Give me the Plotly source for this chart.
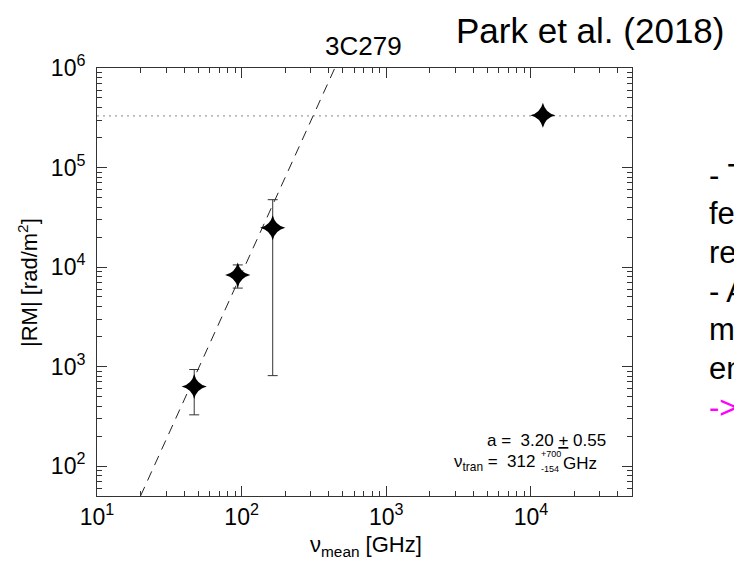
import plotly.graph_objects as go

# ---- data ----
nu_mean = [47, 94, 164, 12100]            # GHz
rm_abs = [630, 8300, 24800, 335000]       # rad/m^2
rm_err_plus = [303, 2200, 22700, 0]
rm_err_minus = [303, 2160, 23990, 0]

fit_nu = [20, 441]          # dashed power-law fit, endpoints
fit_rm = [50, 1.0e6]
rm_sat = 330000             # dotted saturation level
x_span = [10, 50000]

x_major = [10, 100, 1000, 10000]
x_major_text = ["10<sup>1</sup>", "10<sup>2</sup>", "10<sup>3</sup>", "10<sup>4</sup>"]
y_major = [100, 1000, 10000, 100000, 1000000]
y_major_text = ["10<sup>2</sup>", "10<sup>3</sup>", "10<sup>4</sup>", "10<sup>5</sup>", "10<sup>6</sup>"]

side_lines = ["- T", "fe", "re", "- A", "m", "en", "->"]
side_colors = ["black"] * 6 + ["#ff00ff"]

# ---- geometry helpers (pixel -> paper) ----
L, R, T, B = 97, 632, 68, 496
W, H = 734, 561
def px(x):
    return (x - L) / (R - L)
def py(y):
    return (B - y) / (B - T)

x_minor = [m * 10 ** k for k in range(1, 5) for m in range(2, 10) if m * 10 ** k <= 50000]
y_minor = [m * 10 ** k for k in range(1, 6) for m in range(2, 10) if m * 10 ** k >= 50]

FONT = "Liberation Sans, Arial, Helvetica, sans-serif"
AX = "#333333"

fig = go.Figure()

fig.add_trace(go.Scatter(
    x=x_span, y=[rm_sat, rm_sat], mode="lines",
    line=dict(color="#888888", width=1, dash="2px,4px"),
    hoverinfo="skip", showlegend=False))

fig.add_trace(go.Scatter(
    x=fit_nu, y=fit_rm, mode="lines",
    line=dict(color="#222222", width=1, dash="10px,7px"),
    hoverinfo="skip", showlegend=False))

fig.add_trace(go.Scatter(
    x=nu_mean, y=rm_abs, mode="markers",
    marker=dict(symbol="star-diamond", size=18, color="black", line=dict(width=0)),
    error_y=dict(type="data", array=rm_err_plus, arrayminus=rm_err_minus,
                 color="#333333", thickness=1, width=5),
    showlegend=False))

axis_common = dict(
    type="log", showline=True, linecolor=AX, linewidth=1, mirror="allticks",
    ticks="inside", ticklen=10, tickwidth=1, tickcolor=AX, showgrid=False, zeroline=False,
    tickfont=dict(family=FONT, size=23, color="black"),
)

fig.update_xaxes(
    range=[1, 4.69897], tickmode="array", tickvals=x_major, ticktext=x_major_text,
    minor=dict(tickmode="array", tickvals=x_minor, ticks="inside", ticklen=5, tickcolor=AX, showgrid=False),
    **axis_common)
fig.update_yaxes(
    range=[1.69897, 6], tickmode="array", tickvals=y_major, ticktext=y_major_text,
    ticklabelstandoff=6,
    minor=dict(tickmode="array", tickvals=y_minor, ticks="inside", ticklen=5, tickcolor=AX, showgrid=False),
    **axis_common)

ann = []
def text(x, y, s, size, color="black", xanchor="center", yanchor="middle", angle=0):
    ann.append(dict(x=px(x), y=py(y), xref="paper", yref="paper", text=s, showarrow=False,
                    xanchor=xanchor, yanchor=yanchor, textangle=angle,
                    font=dict(family=FONT, size=size, color=color)))

text(363, 46, "3C279", 26)
text(590, 30, "Park et al. (2018)", 35)
text(366, 546, "ν<sub>mean</sub> [GHz]", 22)
text(28, 283, "|RM| [rad/m<sup>2</sup>]", 22, angle=-90)

text(608, 440, "a =  3.20 <u>+</u> 0.55", 17, xanchor="right")
text(537, 463, "ν<sub>tran</sub> =  312", 17, xanchor="right")
text(539, 454, "+700", 9, xanchor="left")
text(539, 469, "-154", 9, xanchor="left")
text(561, 463, "GHz", 17, xanchor="left")

for i, (s, c) in enumerate(zip(side_lines, side_colors)):
    text(707, 175 + i * 38.7, s, 31, color=c, xanchor="left")

fig.update_layout(
    annotations=ann,
    width=W, height=H,
    margin=dict(l=L, r=W - R, t=T, b=H - B),
    paper_bgcolor="white", plot_bgcolor="white",
    font=dict(family=FONT, color="black"),
)

fig.write_html("out.html")
